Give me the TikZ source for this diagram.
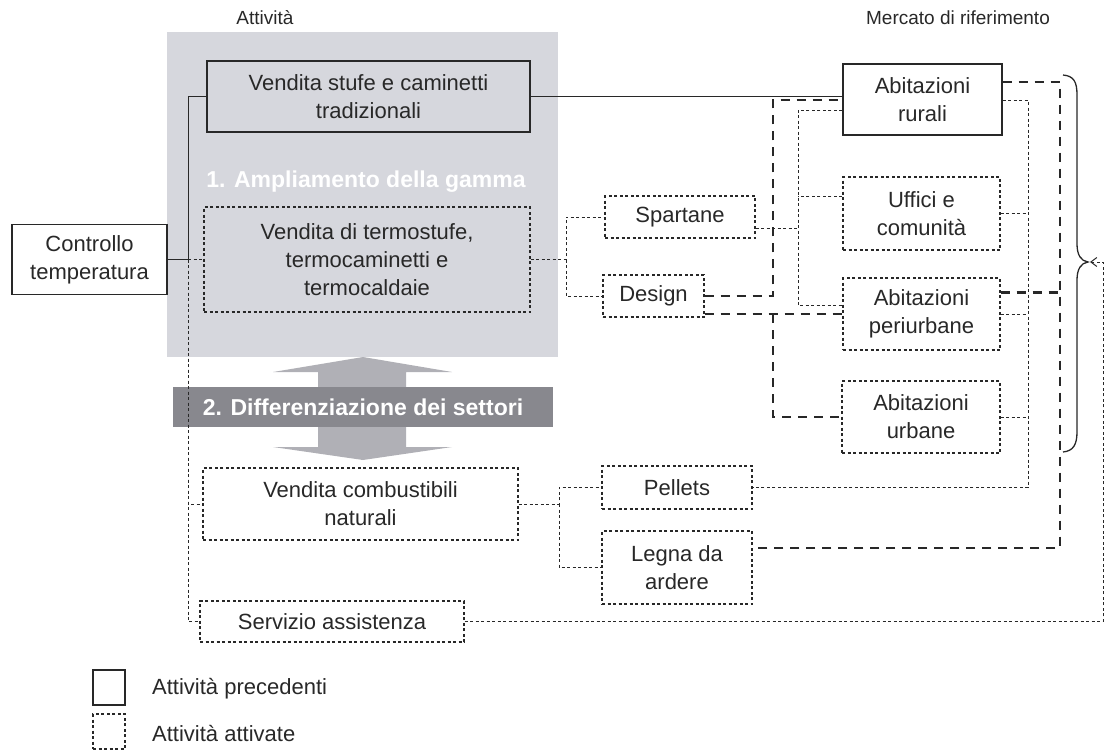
\documentclass[tikz,border=0pt]{standalone}
\usepackage{fontspec}
\setmainfont{Liberation Sans}
\usetikzlibrary{calc,arrows.meta}

\definecolor{ink}{RGB}{40,40,40}
\definecolor{areagray}{RGB}{214,215,221}
\definecolor{arrowgray}{RGB}{176,176,182}
\definecolor{bandgray}{RGB}{136,136,142}

\begin{document}
\begin{tikzpicture}[x=1pt,y=-1pt,
  lbl/.style={font=\fontsize{22}{28}\selectfont, align=center, text=ink, inner sep=0pt},
  head/.style={font=\fontsize{19}{23}\selectfont, text=ink, inner sep=0pt},
  banner/.style={font=\bfseries\fontsize{23}{27}\selectfont, text=white, inner sep=0pt},
  prevbox/.style={lbl, draw=ink, line width=1.1pt},
  actbox/.style={lbl, draw=ink, line width=1.1pt, dash pattern=on 3pt off 2.5pt},
  solidlink/.style={draw=ink, line width=0.9pt},
  dotlink/.style={draw=ink, line width=1pt, dash pattern=on 3pt off 2.5pt},
  heavylink/.style={draw=ink, line width=2.4pt, dash pattern=on 9pt off 7pt},
]
\useasboundingbox (0,0) rectangle (1106,752);

% column headings
\node[head] (hAtt) at (265,18) {Attività};
\node[head] (hMer) at (958,18) {Mercato di riferimento};

% shaded area of the activities
\fill[areagray] (167,32) rectangle (558,357);

% double arrow and sector band
\fill[arrowgray] (363,357) -- (452,372) -- (406,372) -- (406,447) -- (452,447)
  -- (363,460) -- (273,447) -- (318,447) -- (318,372) -- (273,372) -- cycle;
\fill[bandgray] (173,387) rectangle (553,427);
\node[banner] (diff) at (363,407) {2. Differenziazione dei settori};
\node[banner] (ampl) at (366,182) {1. Ampliamento della gamma};

% activities
\node[prevbox, minimum width=323pt, minimum height=71pt] (stufe) at (368.5,96.5)
  {Vendita stufe e caminetti\\tradizionali};
\node[actbox, minimum width=326pt, minimum height=105pt] (termo) at (367,259.5)
  {Vendita di termostufe,\\termocaminetti e\\termocaldaie};
\node[prevbox, minimum width=155pt, minimum height=70pt] (controllo) at (89.5,259.5)
  {Controllo\\temperatura};
\node[actbox, minimum width=315pt, minimum height=72pt] (vcomb) at (360.5,504)
  {Vendita combustibili\\naturali};
\node[actbox, minimum width=264pt, minimum height=41pt] (serv) at (332,621.5)
  {Servizio assistenza};

% product lines
\node[actbox, minimum width=150pt, minimum height=42pt] (spartane) at (680,217) {Spartane};
\node[actbox, minimum width=101pt, minimum height=42pt] (design) at (653.5,296) {Design};
\node[actbox, minimum width=150pt, minimum height=43pt] (pellets) at (677,487.5) {Pellets};
\node[actbox, minimum width=150pt, minimum height=73pt] (legna) at (677,567.5) {Legna da\\ardere};

% markets
\node[prevbox, minimum width=159pt, minimum height=71pt] (rurali) at (922.5,99.5) {Abitazioni\\rurali};
\node[actbox, minimum width=157pt, minimum height=73pt] (uffici) at (921.5,213.5) {Uffici e\\comunità};
\node[actbox, minimum width=157pt, minimum height=72pt] (periurb) at (921.5,314) {Abitazioni\\periurbane};
\node[actbox, minimum width=158pt, minimum height=72pt] (urbane) at (921,417) {Abitazioni\\urbane};

% left spine
\coordinate (spine) at (188,259.5);
\draw[solidlink] (stufe.west) -| (spine) -- (controllo.east);
\draw[dotlink] (spine) -- (termo.west);
\draw[dotlink] (spine) |- (vcomb.west);
\draw[dotlink] (spine) |- (serv.west);

% activities to product lines
\coordinate (forkA) at (566,259.5);
\draw[dotlink] (termo.east) -- (forkA) |- (spartane.west);
\draw[dotlink] (forkA) |- (design.west);
\coordinate (forkB) at (559,504);
\draw[dotlink] (vcomb.east) -- (forkB) |- (pellets.west);
\draw[dotlink] (forkB) |- (legna.west);

% traditional sales to rural homes
\draw[solidlink] (stufe.east) -- (stufe.east -| rurali.west);

% Design
\coordinate (hv) at (773,100);
\draw[heavylink] (design.east) -| (hv) -- (hv -| rurali.west);
\draw[heavylink] (periurb.west -| design.east) -- (periurb.west);
\draw[heavylink] (periurb.west -| hv) |- (urbane.west);

% Spartane
\coordinate (sv) at (798,110);
\coordinate (spE) at ($(spartane.east)+(0,11)$);
\coordinate (uffW) at ($(uffici.north west)+(0,20)$);
\coordinate (perW) at ($(periurb.south west)+(0,-45)$);
\draw[dotlink] (spE) -- (spE -| sv);
\draw[dotlink] (sv -| rurali.west) -- (sv) |- (perW);
\draw[dotlink] (uffW) -- (uffW -| sv);

% Pellets
\coordinate (pv) at (1028,100);
\draw[dotlink] (pv -| rurali.east) -- (pv) |- (pellets.east);
\draw[dotlink] (uffici.east) -- (uffici.east -| pv);
\draw[dotlink] (periurb.east) -- (periurb.east -| pv);
\draw[dotlink] (urbane.east) -- (urbane.east -| pv);

% Legna da ardere
\coordinate (lv) at (1060,82);
\coordinate (legE) at ($(legna.east)+(0,-19.5)$);
\coordinate (perE) at ($(periurb.north east)+(0,15)$);
\draw[heavylink] (lv -| rurali.east) -- (lv) |- (legE);
\draw[heavylink] (perE) -- (perE -| lv);

% brace over the markets
\draw[ink, line width=1.3pt] (1063,75) .. controls (1074,76) and (1077,82) .. (1077,95)
  -- (1077,244) .. controls (1077,255) and (1081,261) .. (1088,262)
  .. controls (1081,263) and (1077,269) .. (1077,280)
  -- (1077,432) .. controls (1077,445) and (1073,451) .. (1063,452);

% service to all markets
\coordinate (tip) at (1090,262);
\coordinate (rc) at (1103,262);
\draw[dotlink, -{Straight Barb[length=6pt,width=9pt]}] (serv.east) -| (rc) -- (tip);

% legend
\node[prevbox, minimum width=32pt, minimum height=35pt] (lgA) at (109,687.5) {};
\node[actbox, minimum width=32pt, minimum height=35pt] (lgB) at (109,731.5) {};
\node[lbl, anchor=west] (lgAt) at (152,689) {Attività precedenti};
\node[lbl, anchor=west] (lgBt) at (152,734) {Attività attivate};
\end{tikzpicture}
\end{document}
